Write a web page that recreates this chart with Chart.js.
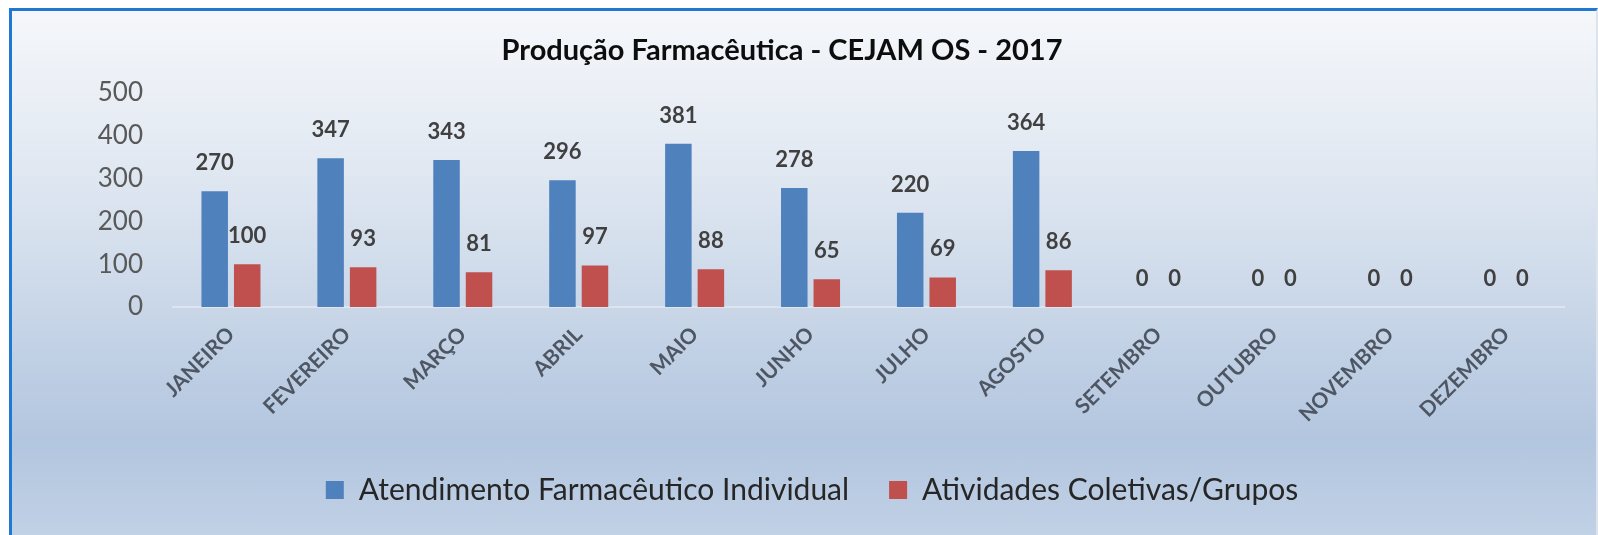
<!DOCTYPE html>
<html>
<head>
<meta charset="utf-8">
<script src="https://cdn.jsdelivr.net/npm/chart.js@4/dist/chart.umd.min.js"></script>
<style>
    body { margin: 0; background: #fff; }
    .wrap { position: relative; width: 1598px; height: 535px; overflow: hidden; }
    .frame {
        position: absolute; left: 9px; top: 8px; width: 1584px; height: 540px;
        border-top: 3px solid #1f78d1; border-left: 3px solid #1f78d1; border-right: 2px solid #dde3ea;
        background: linear-gradient(to bottom, #f5f7fa 0%, #e6ecf4 22%, #d3deec 45%, #bfcfe4 65%, #b3c6df 80%, #c3d3e7 100%);
    }
    canvas { position: absolute; left: 0; top: 0; }
</style>
</head>
<body>
<div class="wrap">
    <div class="frame"></div>
    <canvas id="production-graphic" width="1598" height="535"></canvas>
</div>
<script>
const months = ['JANEIRO', 'FEVEREIRO', 'MARÇO', 'ABRIL', 'MAIO', 'JUNHO', 'JULHO', 'AGOSTO', 'SETEMBRO', 'OUTUBRO', 'NOVEMBRO', 'DEZEMBRO'];
const individual = [270, 347, 343, 296, 381, 278, 220, 364, 0, 0, 0, 0];
const coletivas = [100, 93, 81, 97, 88, 65, 69, 86, 0, 0, 0, 0];
const yTicks = [0, 100, 200, 300, 400, 500];

// value on top of every bar
const valueLabels = {
    id: 'valueLabels',
    afterDatasetsDraw(chart) {
        const ctx = chart.ctx;
        ctx.save();
        ctx.font = 'bold 22px Lato';
        ctx.fillStyle = '#404040';
        ctx.textAlign = 'center';
        ctx.textBaseline = 'alphabetic';
        chart.data.datasets.forEach((ds, i) => {
            chart.getDatasetMeta(i).data.forEach((bar, j) => {
                ctx.fillText(ds.data[j], bar.x, bar.y - 21);
            });
        });
        ctx.restore();
    }
};

// the legend sits a bit right of centre in the original
const legendShift = {
    id: 'legendShift',
    afterLayout(chart) {
        chart.legend.left += 30;
        chart.legend.right += 30;
    }
};

onload = () => {
    const graphic = document.getElementById('production-graphic');
    new Chart(graphic, {
        type: 'bar',
        data: {
            labels: months,
            datasets: [{
                label: 'Atendimento Farmacêutico Individual',
                backgroundColor: '#4f81bd',
                data: individual,
            }, {
                label: 'Atividades Coletivas/Grupos',
                backgroundColor: '#c0504d',
                data: coletivas,
            }]
        },
        options: {
            responsive: false,
            animation: false,
            categoryPercentage: 0.561,
            barPercentage: 0.815,
            layout: { padding: { left: 0, right: 34, top: 0, bottom: 20 } },
            plugins: {
                tooltip: { enabled: false },
                title: {
                    display: true,
                    text: 'Produção Farmacêutica - CEJAM OS - 2017',
                    color: '#0d0d0d',
                    font: { family: 'Lato', size: 29, weight: 'bold' },
                    padding: { top: 33, bottom: 25 }
                },
                legend: {
                    position: 'bottom',
                    labels: {
                        color: '#262626',
                        font: { family: 'Lato', size: 30 },
                        boxWidth: 18,
                        boxHeight: 18,
                        padding: 40
                    }
                }
            },
            scales: {
                x: {
                    grid: { display: false, drawTicks: false },
                    border: { display: true, color: '#dde4ee', width: 2 },
                    ticks: {
                        autoSkip: false,
                        minRotation: 45,
                        maxRotation: 45,
                        padding: 15,
                        color: '#4d5662',
                        font: { family: 'Lato', size: 21, weight: 'bold' }
                    },
                    afterFit: (scale) => { scale.height = 128; }
                },
                y: {
                    min: 0,
                    max: 500,
                    grid: { display: false, drawTicks: false },
                    border: { display: false },
                    afterBuildTicks: (scale) => { scale.ticks = yTicks.map(v => ({ value: v })); },
                    ticks: {
                        padding: 30,
                        color: '#595959',
                        font: { family: 'Lato', size: 26 }
                    },
                    afterFit: (scale) => { scale.width = 173; }
                }
            }
        },
        plugins: [valueLabels, legendShift]
    });
}
</script>
</body>
</html>
